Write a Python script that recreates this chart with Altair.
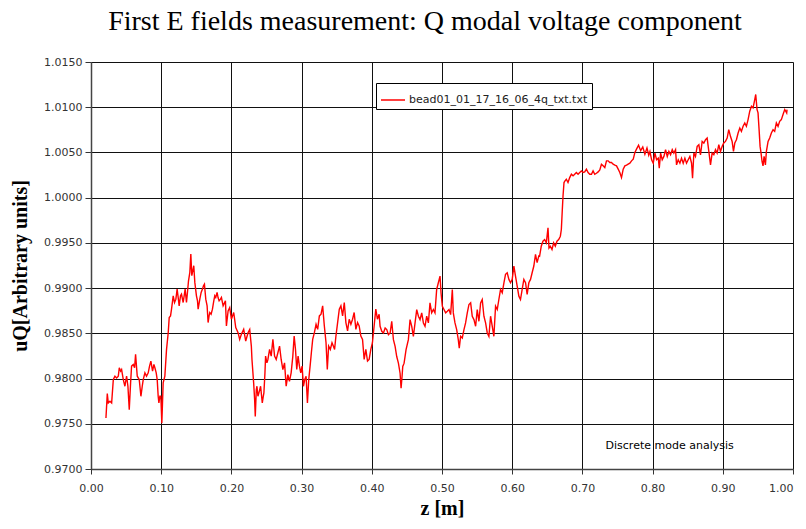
import altair as alt
import pandas as pd

TITLE = "First E fields measurement: Q modal voltage component"
SERIES = "bead01_01_17_16_06_4q_txt.txt"
X_TITLE = "z [m]"
Y_TITLE = "uQ[Arbitrary units]"
NOTE = "Discrete mode analysis"
NOTE_POS = [0.733, 0.97254]

x_ticks = [0.0, 0.1, 0.2, 0.3, 0.4, 0.5, 0.6, 0.7, 0.8, 0.9, 1.0]
y_ticks = [0.970, 0.975, 0.980, 0.985, 0.990, 0.995, 1.000, 1.005, 1.010, 1.015]

z = [
    0.0213, 0.0232, 0.0246, 0.0270, 0.0294, 0.0318, 0.0341, 0.0365, 0.0389, 0.0403,
    0.0422, 0.0436, 0.0460, 0.0483, 0.0507, 0.0526, 0.0545, 0.0564, 0.0578, 0.0602,
    0.0621, 0.0635, 0.0659, 0.0687, 0.0711, 0.0730, 0.0744, 0.0768, 0.0791, 0.0815,
    0.0834, 0.0853, 0.0877, 0.0896, 0.0910, 0.0929, 0.0943, 0.0957, 0.0967, 0.0981,
    0.0995, 0.1009, 0.1028, 0.1052, 0.1076, 0.1100, 0.1114, 0.1133, 0.1147, 0.1171,
    0.1190, 0.1209, 0.1227, 0.1242, 0.1256, 0.1275, 0.1289, 0.1313, 0.1327, 0.1341,
    0.1360, 0.1374, 0.1389, 0.1408, 0.1422, 0.1436, 0.1450, 0.1464, 0.1479, 0.1502,
    0.1517, 0.1526, 0.1550, 0.1569, 0.1588, 0.1602, 0.1616, 0.1635, 0.1654, 0.1668,
    0.1682, 0.1692, 0.1711, 0.1730, 0.1749, 0.1763, 0.1777, 0.1796, 0.1810, 0.1825,
    0.1844, 0.1858, 0.1882, 0.1915, 0.1929, 0.1953, 0.1976, 0.2000, 0.2033, 0.2062,
    0.2095, 0.2118, 0.2142, 0.2175, 0.2204, 0.2237, 0.2261, 0.2284,
    0.2293, 0.2317, 0.2331, 0.2340, 0.2355, 0.2364, 0.2378, 0.2392, 0.2416, 0.2440,
    0.2454, 0.2463, 0.2478, 0.2487, 0.2506, 0.2520, 0.2544, 0.2567, 0.2591, 0.2615,
    0.2638, 0.2662, 0.2686, 0.2709, 0.2733, 0.2757, 0.2780, 0.2794, 0.2804, 0.2827,
    0.2851, 0.2875, 0.2894, 0.2913, 0.2931, 0.2950, 0.2969, 0.2988, 0.3007, 0.3026,
    0.3045, 0.3064, 0.3083, 0.3102, 0.3121, 0.3139, 0.3158, 0.3182, 0.3206, 0.3229,
    0.3253, 0.3277, 0.3300, 0.3324, 0.3348, 0.3366, 0.3385, 0.3409, 0.3433, 0.3452,
    0.3470, 0.3489, 0.3513, 0.3537, 0.3560, 0.3584, 0.3608, 0.3631, 0.3655, 0.3678,
    0.3702, 0.3726, 0.3749, 0.3773, 0.3797, 0.3820, 0.3844, 0.3868, 0.3891, 0.3915,
    0.3939, 0.3962, 0.3986, 0.4009, 0.4033, 0.4057, 0.4080, 0.4104,
    0.4118, 0.4142, 0.4166, 0.4190, 0.4213, 0.4237, 0.4261, 0.4284, 0.4308, 0.4332,
    0.4355, 0.4379, 0.4403, 0.4417, 0.4431, 0.4441, 0.4460, 0.4488, 0.4521, 0.4545,
    0.4569, 0.4592, 0.4616, 0.4640, 0.4664, 0.4687, 0.4711, 0.4735, 0.4758, 0.4782,
    0.4806, 0.4829, 0.4853, 0.4877, 0.4900, 0.4924, 0.4948, 0.4972, 0.4986, 0.5005,
    0.5028, 0.5052, 0.5076, 0.5100, 0.5123, 0.5147, 0.5161, 0.5185, 0.5209, 0.5232,
    0.5246, 0.5265, 0.5289, 0.5313, 0.5336, 0.5360, 0.5384, 0.5408, 0.5431, 0.5455,
    0.5479, 0.5502, 0.5526, 0.5550, 0.5573, 0.5597, 0.5621, 0.5645, 0.5668, 0.5692,
    0.5716, 0.5739, 0.5763, 0.5787, 0.5810, 0.5834, 0.5858, 0.5882, 0.5905, 0.5929,
    0.5953, 0.5976, 0.6000, 0.6024, 0.6047, 0.6071, 0.6095, 0.6118, 0.6142, 0.6166,
    0.6190, 0.6213, 0.6237, 0.6261, 0.6284, 0.6308, 0.6332, 0.6355, 0.6379,
    0.6390, 0.6414, 0.6438, 0.6462, 0.6486, 0.6510, 0.6524, 0.6543, 0.6567, 0.6590,
    0.6614, 0.6638, 0.6662, 0.6686, 0.6700, 0.6714, 0.6724, 0.6738, 0.6752, 0.6771,
    0.6795, 0.6819, 0.6843, 0.6867, 0.6890, 0.6914, 0.6938, 0.6962, 0.6986, 0.7010,
    0.7033, 0.7057, 0.7081, 0.7105, 0.7129, 0.7152, 0.7176, 0.7200, 0.7224, 0.7248,
    0.7271, 0.7295, 0.7319, 0.7343, 0.7367, 0.7390, 0.7414, 0.7438, 0.7462, 0.7486,
    0.7510, 0.7533, 0.7557, 0.7581, 0.7605, 0.7629, 0.7652, 0.7676, 0.7700, 0.7724,
    0.7748, 0.7771, 0.7800, 0.7830, 0.7860, 0.7890, 0.7920, 0.7945,
    0.7962, 0.7986, 0.8009, 0.8033, 0.8057, 0.8081, 0.8095, 0.8114, 0.8137, 0.8161,
    0.8185, 0.8209, 0.8232, 0.8256, 0.8280, 0.8303, 0.8327, 0.8341, 0.8365, 0.8389,
    0.8412, 0.8436, 0.8460, 0.8483, 0.8507, 0.8531, 0.8555, 0.8569, 0.8588, 0.8611,
    0.8635, 0.8659, 0.8682, 0.8706, 0.8730, 0.8754, 0.8777, 0.8801, 0.8825, 0.8848,
    0.8872, 0.8896, 0.8919, 0.8943, 0.8967, 0.8991, 0.9014, 0.9038, 0.9062, 0.9085,
    0.9109, 0.9133, 0.9152, 0.9171, 0.9194, 0.9218, 0.9242, 0.9265, 0.9289, 0.9313,
    0.9336, 0.9360, 0.9384, 0.9408, 0.9431, 0.9455, 0.9469, 0.9488, 0.9502, 0.9517,
    0.9531, 0.9545, 0.9559, 0.9573, 0.9588, 0.9607, 0.9621, 0.9645, 0.9668, 0.9692,
    0.9716, 0.9739, 0.9763, 0.9787, 0.9810, 0.9834, 0.9858, 0.9882, 0.9896, 0.9910,
    0.9915,
]

uq = [
    0.97563, 0.97833, 0.97730, 0.97748, 0.97730, 0.97989, 0.98026, 0.98007, 0.98026, 0.98119,
    0.98081, 0.98100, 0.97989, 0.97915, 0.98026, 0.97915, 0.97656, 0.97952, 0.98137, 0.98156,
    0.98119, 0.98267, 0.98026, 0.97989, 0.97804, 0.97915, 0.97989, 0.98063, 0.98026, 0.98063,
    0.98137, 0.98193, 0.98081, 0.98156, 0.98119, 0.98063, 0.97989, 0.97804, 0.97730, 0.97804,
    0.97804, 0.97507, 0.97952, 0.98026, 0.98322, 0.98507, 0.98674, 0.98693, 0.98767, 0.98915,
    0.98841, 0.98878, 0.98989, 0.98896, 0.98804, 0.98915, 0.98933, 0.98841, 0.98915, 0.98989,
    0.98841, 0.98952, 0.99081, 0.99174, 0.99378, 0.99137, 0.99193, 0.99248, 0.99063, 0.98915,
    0.98859, 0.98767, 0.98878, 0.98952, 0.98989, 0.99026, 0.99044, 0.98878, 0.98804, 0.98619,
    0.98693, 0.98730, 0.98711, 0.98767, 0.98859, 0.98915, 0.98896, 0.98952, 0.98896, 0.98859,
    0.98878, 0.98896, 0.98804, 0.98859, 0.98581, 0.98748, 0.98785, 0.98656, 0.98730, 0.98563,
    0.98507, 0.98433, 0.98489, 0.98544, 0.98415, 0.98507, 0.98544, 0.98359,
    0.98211, 0.97952, 0.97767, 0.97582, 0.97878, 0.97915, 0.97804, 0.97841, 0.97915, 0.97730,
    0.97804, 0.97841, 0.98063, 0.98248, 0.98174, 0.98211, 0.98322, 0.98248, 0.98433, 0.98248,
    0.98211, 0.98285, 0.98359, 0.98211, 0.98100, 0.98174, 0.97915, 0.97989, 0.98044, 0.97970,
    0.98063, 0.98248, 0.98470, 0.98322, 0.98100, 0.98248, 0.98137, 0.98063, 0.98137, 0.97915,
    0.97989, 0.98026, 0.97730, 0.97989, 0.98137, 0.98285, 0.98433, 0.98507, 0.98600, 0.98544,
    0.98693, 0.98711, 0.98804, 0.98581, 0.98396, 0.98100, 0.98359, 0.98322, 0.98396, 0.98359,
    0.98322, 0.98470, 0.98619, 0.98767, 0.98804, 0.98693, 0.98841, 0.98619, 0.98526, 0.98656,
    0.98600, 0.98656, 0.98730, 0.98544, 0.98619, 0.98581, 0.98470, 0.98433, 0.98211, 0.98322,
    0.98193, 0.98211, 0.98322, 0.98396, 0.98581, 0.98767, 0.98656, 0.98711,
    0.98578, 0.98522, 0.98504, 0.98559, 0.98541, 0.98485, 0.98504, 0.98633, 0.98430, 0.98356,
    0.98244, 0.98170, 0.98059, 0.97893, 0.98022, 0.98133, 0.98170, 0.98319, 0.98430, 0.98652,
    0.98578, 0.98467, 0.98615, 0.98763, 0.98689, 0.98652, 0.98726, 0.98615, 0.98578, 0.98689,
    0.98615, 0.98837, 0.98726, 0.98763, 0.98726, 0.98985, 0.99059, 0.99133, 0.98948, 0.98800,
    0.98763, 0.98726, 0.98744, 0.98763, 0.98707, 0.98985, 0.98726, 0.98615, 0.98541, 0.98430,
    0.98337, 0.98467, 0.98448, 0.98541, 0.98615, 0.98726, 0.98819, 0.98837, 0.98689, 0.98652,
    0.98578, 0.98763, 0.98633, 0.98837, 0.98874, 0.98689, 0.98615, 0.98504, 0.98467, 0.98689,
    0.98578, 0.98467, 0.98800, 0.98763, 0.98874, 0.98985, 0.98948, 0.99059, 0.99152, 0.99170,
    0.99096, 0.99059, 0.99096, 0.99244, 0.99133, 0.99022, 0.98911, 0.98874, 0.98985, 0.99096,
    0.99059, 0.98930, 0.99059, 0.99096, 0.99170, 0.99244, 0.99374, 0.99281, 0.99356,
    0.99352, 0.99463, 0.99519, 0.99537, 0.99500, 0.99667, 0.99444, 0.99463, 0.99426, 0.99500,
    0.99463, 0.99519, 0.99537, 0.99574, 0.99648, 0.99870, 1.00019, 1.00167, 1.00185, 1.00204,
    1.00167, 1.00222, 1.00259, 1.00241, 1.00259, 1.00278, 1.00259, 1.00278, 1.00296, 1.00278,
    1.00285, 1.00315, 1.00278, 1.00259, 1.00259, 1.00296, 1.00259, 1.00270, 1.00285, 1.00307,
    1.00370, 1.00352, 1.00333, 1.00407, 1.00407, 1.00389, 1.00389, 1.00370, 1.00359, 1.00352,
    1.00315, 1.00278, 1.00222, 1.00315, 1.00352, 1.00359, 1.00370, 1.00381, 1.00407, 1.00426,
    1.00500, 1.00537, 1.00580, 1.00520, 1.00560, 1.00480, 1.00550, 1.00470,
    1.00511, 1.00419, 1.00381, 1.00493, 1.00419, 1.00437, 1.00326, 1.00493, 1.00419, 1.00456,
    1.00530, 1.00456, 1.00511, 1.00474, 1.00530, 1.00493, 1.00530, 1.00363, 1.00419, 1.00381,
    1.00437, 1.00381, 1.00437, 1.00381, 1.00419, 1.00456, 1.00381, 1.00215, 1.00493, 1.00456,
    1.00567, 1.00585, 1.00474, 1.00622, 1.00604, 1.00641, 1.00659, 1.00511, 1.00363, 1.00493,
    1.00474, 1.00530, 1.00493, 1.00585, 1.00511, 1.00567, 1.00604, 1.00622, 1.00659, 1.00752,
    1.00678, 1.00622, 1.00511, 1.00604, 1.00641, 1.00715, 1.00770, 1.00733, 1.00789, 1.00826,
    1.00789, 1.00863, 1.00956, 1.01011, 1.00993, 1.01085, 1.01141, 1.00974, 1.00937, 1.00752,
    1.00567, 1.00493, 1.00400, 1.00352, 1.00456, 1.00363, 1.00511, 1.00622, 1.00659, 1.00715,
    1.00752, 1.00733, 1.00826, 1.00789, 1.00844, 1.00863, 1.00919, 1.00974, 1.00956, 1.00937,
    1.00974,
]

df = pd.DataFrame({"z": z, "uq": uq, "series": SERIES})
note_df = pd.DataFrame({"z": [NOTE_POS[0]], "uq": [NOTE_POS[1]], "t": [NOTE]})

xs = alt.Scale(domain=[0, 1], nice=False, zero=False)
ys = alt.Scale(domain=[0.970, 1.015], nice=False, zero=False)

line = alt.Chart(df).mark_line(strokeWidth=1.4, interpolate="linear").encode(
    x=alt.X("z:Q", scale=xs, title=X_TITLE,
            axis=alt.Axis(values=x_ticks, format=".2f", labelFont="DejaVu Sans",
                          labelFontSize=11, labelColor="#333", tickSize=5,
                          tickColor="#333", labelPadding=8, titleFont="Liberation Serif",
                          titleFontSize=20, titleFontWeight="bold", titleColor="black",
                          titlePadding=5, domainColor="#444", domainWidth=1.5,
                          gridColor="#111", gridWidth=1, labelFlush=False,
                          labelAlign={"condition": {"test": "datum.value >= 1", "value": "right"},
                                      "value": "center"})),
    y=alt.Y("uq:Q", scale=ys, title=Y_TITLE,
            axis=alt.Axis(values=y_ticks, format=".4f", labelFont="DejaVu Sans",
                          labelFontSize=11, labelColor="#333", tickSize=6,
                          tickColor="#333", labelPadding=3, titleFont="Liberation Serif",
                          titleFontSize=20, titleFontWeight="bold", titleColor="black",
                          titlePadding=13, domainColor="#444", domainWidth=1.5,
                          gridColor="#111", gridWidth=1, labelFlush=False)),
    color=alt.Color("series:N", scale=alt.Scale(range=["#ff0000"]),
                    legend=alt.Legend(orient="none", legendX=285, legendY=21, title=None,
                                      strokeColor="black", fillColor="white", padding=4,
                                      symbolType="stroke", symbolSize=576,
                                      symbolStrokeWidth=1.5, labelFont="DejaVu Sans",
                                      labelFontSize=11, labelColor="#222", labelOffset=3,
                                      labelLimit=400)),
)

note = alt.Chart(note_df).mark_text(align="left", baseline="middle", font="DejaVu Sans",
                                     fontSize=11, color="black").encode(
    x=alt.X("z:Q", scale=xs), y=alt.Y("uq:Q", scale=ys), text="t:N")

chart = (line + note).properties(
    width=702, height=407,
    title=alt.TitleParams(TITLE, font="Liberation Serif", fontSize=28, fontWeight="normal",
                          color="black", anchor="middle", dx=-17, offset=20),
    padding={"left": 83, "top": 54, "right": 5, "bottom": 52},
    autosize=alt.AutoSizeParams(type="none"),
).configure_view(stroke=None).configure(background="white")

chart.save("out.html", embed_options={"renderer": "svg", "actions": False})
